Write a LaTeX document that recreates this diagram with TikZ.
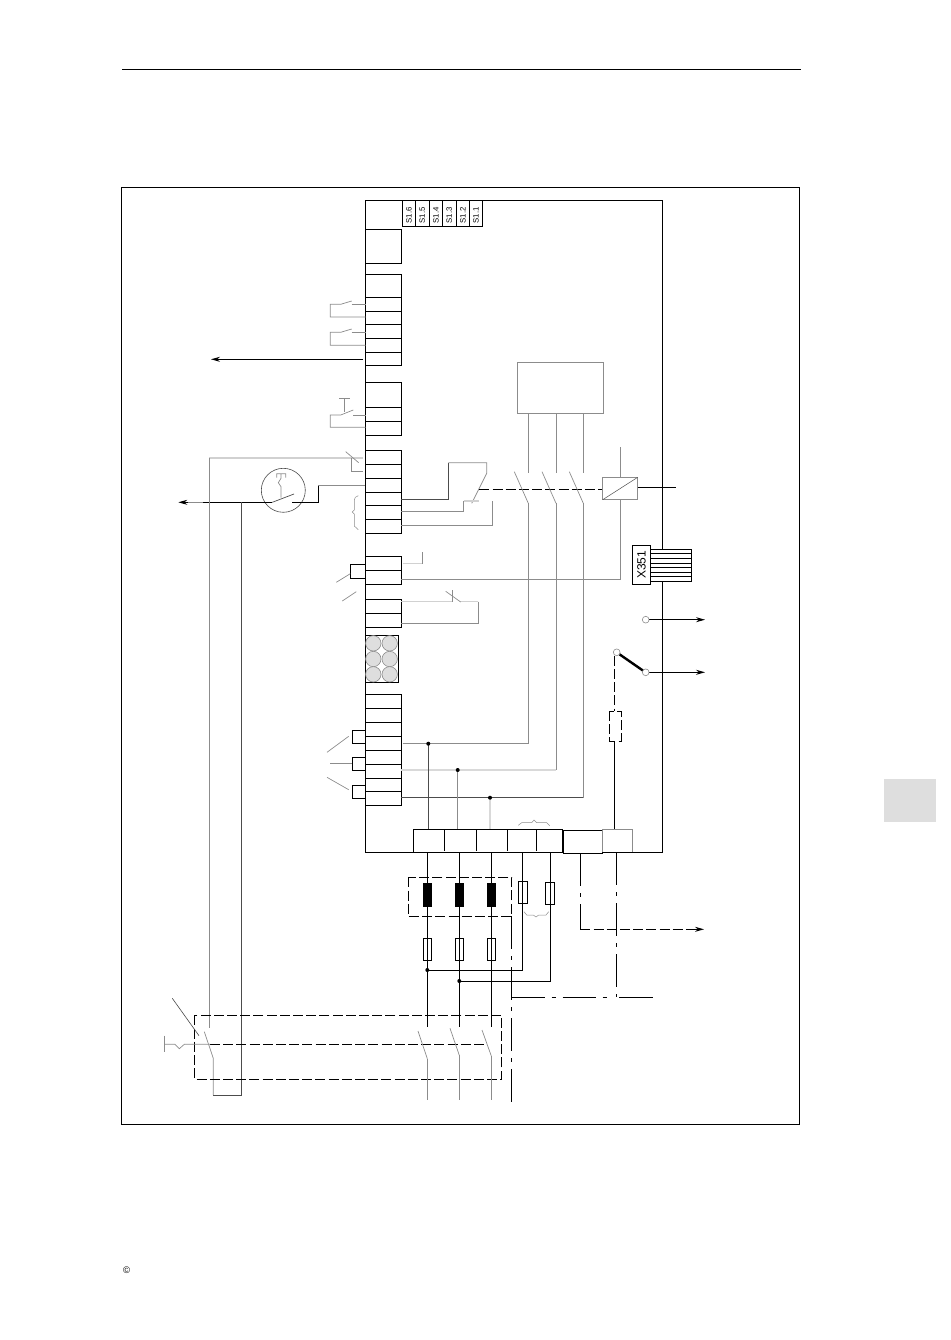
\documentclass[tikz,border=0pt]{standalone}
\usepackage{fontspec}
\setmainfont{Liberation Sans}
\usetikzlibrary{arrows.meta}
\tikzset{>={Stealth[length=9pt,width=5pt]}}
\colorlet{wiregray}{black!45}
\colorlet{wirelight}{black!18}
\colorlet{wiredark}{black!70}
\tikzstyle{line}=[black,line width=.9]
\tikzstyle{thin}=[wiregray,line width=.7]
\tikzstyle{light}=[wirelight,line width=1.2]
\tikzstyle{dark}=[wiredark,line width=.8]
\tikzstyle{ctrl}=[line,dash pattern=on 10pt off 3.2pt]
\tikzstyle{prot}=[line,dash pattern=on 33pt off 7pt on 4pt off 7pt]
\tikzstyle{arrow}=[->,line]
\tikzstyle{terminal}=[line,line width=.9]
\tikzstyle{brace}=[wiregray,line width=.5]
\tikzstyle{label}=[inner sep=0,rotate=90]
\newcommand{\termblock}[3]{%
  \draw[terminal] (365.7,#1) -- (401.3,#1) -- (401.3,#2) -- (365.7,#2);
  \foreach \y in {#3} \draw[terminal] (365.7,\y) -- (401.3,\y);
}
\begin{document}
\begin{tikzpicture}[x=1pt,y=-1pt]
  \useasboundingbox (0,0) rectangle (950,1340);

  % PAGE
  \draw[line width=1] (122,70) -- (801,70);
  \draw[line] (121.5,187) rectangle (799.7,1124.7);
  \fill[black!13] (884,779) rectangle (936,822);
  \node[inner sep=0,font=\fontsize{9.5}{9.5}\selectfont] (copy) at (126.7,1270.7) {\textcopyright};

  % UNIT
  \draw[line] (365.7,200.7) rectangle (662.3,852.3);

  % SWITCH S1
  \draw[line] (402,200.7) rectangle (482,226);
  \foreach \x in {415,429,442.7,456,469.7} \draw[line] (\x,200.7) -- (\x,226);
  \foreach \x/\t [count=\i] in {409/6,422.3/5,436/4,449.3/3,463/2,476/1}
    \node[label,font=\fontsize{7.8}{7.8}\selectfont] (sw\i) at (\x,215.5) {S1\kern.9pt.\t};

  % TERMINALS
  \draw[line] (365.7,229) rectangle (401.3,263);
  \termblock{274.3}{365}{297.5,311.5,324.5,338.5,352.5}
  \termblock{382.5}{435.5}{407.5,421.5}
  \termblock{450.3}{533}{464.3,478.3,492.3,505,519.3}
  \termblock{556.3}{584.3}{570.3}
  \termblock{599.3}{627.3}{613.3}
  \termblock{694.3}{805.3}{708.3,722.3,736.3,750.3,764.3,778.3,791.3}
  \draw[line] (365.7,564.3) -- (350.3,564.3) -- (350.3,578.3) -- (365.7,578.3);
  \foreach \y/\z in {730.3/743.3,757.3/770.3,785.3/798.3}
    \draw[line] (365.7,\y) -- (352.3,\y) -- (352.3,\z) -- (365.7,\z);

  % LEDS
  \draw[line] (365.7,635.3) rectangle (398.3,682.3);
  \foreach \x in {373.3,389.7}
    \foreach \y in {643.3,659,674.3}
      \draw[wiregray,line width=.6,fill=black!13] (\x,\y) circle (7.7);

  % RELAY OUTPUTS
  \foreach \y/\z in {304.3/317,332.3/345.3} {
    \draw[thin] (365.7,\z) -| (330.3,\y) -- (340.7,\y) -- (351.7,\y-3.3);
    \draw[thin] (351.7,\y) -- (365.7,\y);
  }
  \draw[thin] (365.7,427.3) -| (330.3,415) -- (340.7,415) -- (353.3,410);
  \draw[thin] (353.3,415) -- (365.7,415);
  \draw[thin] (339.3,398.3) -- (350,398.3) (344.3,398.3) -- (344.3,412.3);
  \draw[arrow] (363,359.3) -- (211,359.3);

  % THERMAL SWITCH
  \draw[wiredark,line width=.6] (283.3,490.3) circle (22);
  \draw[thin] (365,485.7) -- (318.3,485.7);
  \draw[line] (318.3,485.7) -- (318.3,502.3) -- (292.3,502.3);
  \draw[wiredark,line width=.7] (272.3,502.3) -- (294,494);
  \draw[thin] (276.7,477.7) |- (285.7,473.7) -- (285.7,477.7)
    (281,473.7) -- (281,478.3) -- (278.3,482.7) -- (281,486.7) -- (281,497.5);
  \draw[line] (272.3,502.3) -- (203.3,502.3);
  \draw[thin] (203.3,502.3) -- (186,502.3);
  \draw[arrow] (188,502.3) -- (178.3,502.3);

  % MAIN SWITCH WIRES
  \draw[wirelight,line width=1.2] (362.7,458) -- (209.3,458);
  \draw[thin] (209.3,458) -- (209.3,1028);
  \draw[thin] (345.7,451.7) -- (358.7,462.7);
  \draw[thin] (351.7,458) |- (362.7,471.3);
  \draw[dark] (241.3,502.3) -- (241.3,1095) -- (213.3,1095);
  \draw[thin] (213.3,1095) -- (213.3,1058.3) -- (204.3,1031.7);
  \draw[brace] (358.3,495.7) -- (355.3,497.3) -- (354.3,500) -- (354.3,510)
    -- (352.3,512) -- (354.3,514) -- (354.3,526) -- (358.3,529.7);

  % CONTACTOR CONTROL
  \draw[dark] (401.3,499.3) -- (448.3,499.3) -- (448.3,462.7);
  \draw[thin] (448.3,462.7) -- (486.7,462.7) -- (486.7,473.3) -- (471.7,503.3);
  \draw[thin] (401.3,511.7) -| (463.7,501);
  \draw[light] (463.7,501) -- (479.3,501);
  \draw[thin] (401.3,525.3) -| (492,501);
  \draw[ctrl] (479.3,489.3) -- (602.7,489.3);
  \draw[wirelight,line width=1.2] (403,563.7) -- (422.7,563.7);
  \draw[thin] (422.7,563.7) -- (422.7,551.7);
  \draw[thin] (401.3,579.3) -- (620.3,579.3) -- (620.3,499.7);
  \draw[thin] (620.3,447.3) -- (620.3,477.3);
  \draw[wirelight,line width=1.2] (401.3,601.7) -- (452.7,601.7);
  \draw[thin] (445.7,591.3) -- (460.7,602);
  \draw[thin] (452.7,590.3) -- (452.7,601.7);
  \draw[wirelight,line width=1.2] (460.7,601.7) -- (478.3,601.7);
  \draw[thin] (478.3,601.7) -- (478.3,623.3) -- (401.3,623.3);

  % CONTACTOR
  \draw[wiregray,line width=.8] (517.3,362.7) rectangle (603.3,413.3);
  \draw[wiregray,line width=.8,fill=white] (602.7,477.3) rectangle (637.7,499.7);
  \draw[wiredark,line width=.5] (602.7,499.7) -- (637.7,477.3);
  \draw[line] (637.7,487) -- (675.7,487);
  \foreach \x/\yend in {528.3/743.7,556/770,583.3/797.7} {
    \draw[thin] (\x,413.3) -- (\x,473.3);
    \draw[thin] (\x-14,471.7) -- (\x,503.3);
    \draw[thin] (\x,503.3) -- (\x,\yend);
  }
  \draw[thin] (402.7,743.7) -- (528.3,743.7);
  \draw[line width=1.4,black!15] (401.3,770) -- (556,770);
  \draw[dark] (401.3,797.7) -- (583.3,797.7);
  \draw[dark] (428.3,743.7) -- (428.3,829.3);
  \draw[thin] (457.7,770) -- (457.7,829.3);
  \draw[line width=1.4,black!15] (490,797.7) -- (490,829.3);
  \foreach \x/\y in {428.3/743.7,457.7/770,490/797.7}
    \fill (\x,\y) circle (2);

  % LEADERS
  \draw[thin] (336.3,582.3) -- (350.3,573.7);
  \draw[thin] (342.3,601) -- (356.3,591.7);
  \draw[thin] (327,752.3) -- (348.7,736.3);
  \draw[thin] (330,763.3) -- (352.3,763.3);
  \draw[thin] (327,777.3) -- (348.7,789.7);

  % CONNECTOR X351
  \draw[line,fill=white] (650.7,549.3) rectangle (691.7,581.3);
  \foreach \i in {1,...,6} \draw[line] (650.7,549.3+\i*4.57) -- (691.7,549.3+\i*4.57);
  \draw[line,fill=white] (632.3,545.3) rectangle (650.7,584.3);
  \node[label,font=\fontsize{12}{12}\selectfont] (xconn) at (641.5,564.8) {X351};

  % SIGNAL OUTPUTS
  \draw[arrow] (649,619.7) -- (705,619.7);
  \draw[wiregray,line width=.6] (645.7,619.7) circle (3.4);
  \draw[line width=2.4] (619.5,654.3) -- (643,670.6);
  \draw[arrow] (649,672.3) -- (705,672.3);
  \draw[wiregray,line width=.6] (616.7,652.3) circle (3.4);
  \draw[wiregray,line width=.6] (645.7,672.3) circle (3.4);
  \draw[ctrl] (614.3,655.7) -- (614.3,711);
  \draw[ctrl] (609,711) rectangle (621,741);
  \draw[line] (614.6,741) -- (614.6,830);

  % POWER TERMINALS
  \draw[line,fill=white] (413.3,829.3) rectangle (562.7,852.3);
  \foreach \x in {444.3,476.3,507.3,536.3} \draw[line] (\x,829.3) -- (\x,851);
  \draw[line,fill=white] (563.3,830.3) rectangle (602.3,853.3);
  \draw[thin,fill=white] (602.3,829.3) rectangle (632.7,852.7);
  \draw[line] (602.3,852.3) -- (632.7,852.3);
  \draw[brace] (518.3,825.3) -- (521.7,822.7) -- (531.7,822.7) -- (534,820) -- (536.7,822.7)
    -- (546.7,822.7) -- (549.7,825.7);

  % POWER WIRES
  \foreach \x in {427.3,459.3,491.3} {
    \draw[line] (\x,852.3) -- (\x,1027.3);
    \draw[line] (\x-4.2,938.3) rectangle (\x+4.2,960.3);
    \fill (\x-4.7,883) rectangle (\x+4.7,906.7);
  }
  \draw[ctrl] (408.3,877.3) rectangle (511.7,916.3);
  \draw[line] (522.3,852.3) -- (522.3,970) -- (427.3,970);
  \draw[line] (550.3,852.3) -- (550.3,981) -- (459.3,981);
  \draw[line] (518.3,881.3) rectangle (527.7,903.3);
  \draw[line] (545.3,882.3) rectangle (554.7,904.3);
  \fill (427.3,970) circle (2);
  \fill (459.3,981) circle (2);
  \draw[brace] (524,911.7) -- (526.7,915) -- (533.3,915) -- (536,917) -- (538.7,915)
    -- (546,915) -- (548.7,911.7);

  % PROTECTIVE EARTH
  \draw[prot] (511.7,916.3) -- (511.7,1102);
  \draw[prot] (511.7,997.3) -- (610,997.3);
  \draw[line] (619,997.3) -- (653.3,997.3);
  \draw[prot] (616.3,852.3) -- (616.3,997.3);
  \draw[prot] (580.3,853.3) -- (580.3,929.3);
  \draw[ctrl] (580.3,929.3) -- (694,929.3);
  \draw[arrow] (690,929.3) -- (704,929.3);

  % MAIN SWITCH
  \draw[ctrl] (194.3,1015.3) rectangle (501.7,1079);
  \draw[ctrl] (210,1044.3) -- (486.7,1044.3);
  \draw[thin] (164.3,1035.7) -- (164.3,1052.3);
  \draw[thin] (164.3,1044.3) -- (175,1044.3) -- (179.3,1048.7) -- (184.3,1044.3) -- (210,1044.3);
  \draw[wiredark,line width=.6] (172.3,998.3) -- (199,1035.7);
  \foreach \x/\a/\b in {427.3/1031/1058.7,459.3/1028.3/1055.3,491.3/1030/1056} {
    \draw[thin] (\x-9.3,\a) -- (\x,\b);
    \draw[thin] (\x,\b) -- (\x,1100);
  }
\end{tikzpicture}
\end{document}
